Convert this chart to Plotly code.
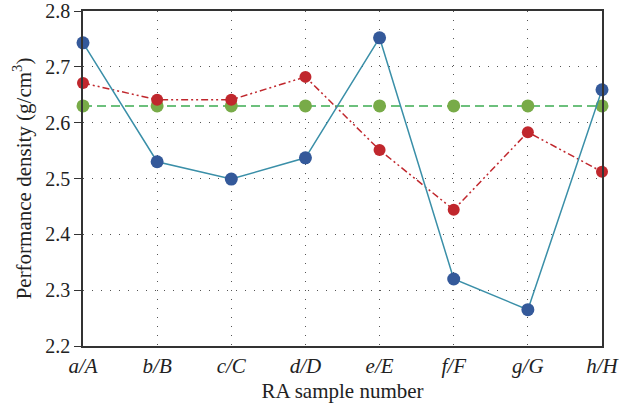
import plotly.graph_objects as go

categories = ["a/A", "b/B", "c/C", "d/D", "e/E", "f/F", "g/G", "h/H"]
blue_vals = [2.743, 2.530, 2.499, 2.537, 2.752, 2.320, 2.265, 2.659]
red_vals = [2.671, 2.641, 2.641, 2.682, 2.551, 2.444, 2.583, 2.512]
green_vals = [2.63, 2.63, 2.63, 2.63, 2.63, 2.63, 2.63, 2.63]
y_ticks = [2.2, 2.3, 2.4, 2.5, 2.6, 2.7, 2.8]

tick_text = ["<i>%s</i>" % c for c in categories]

fig = go.Figure()
fig.add_trace(go.Scatter(
    x=categories, y=green_vals, mode="lines+markers",
    line=dict(color="#6cc07c", width=2, dash="9px,5px"),
    marker=dict(color="#78ab48", size=13),
    cliponaxis=False, showlegend=False))
fig.add_trace(go.Scatter(
    x=categories, y=red_vals, mode="lines+markers",
    line=dict(color="#c0272d", width=1.5, dash="7px,3px,2px,3px,2px,3px"),
    marker=dict(color="#c0272d", size=12),
    cliponaxis=False, showlegend=False))
fig.add_trace(go.Scatter(
    x=categories, y=blue_vals, mode="lines+markers",
    line=dict(color="#3a8fa8", width=1.5),
    marker=dict(color="#34599a", size=13),
    cliponaxis=False, showlegend=False))

fig.update_layout(
    width=622, height=415,
    margin=dict(l=83, r=20, t=11, b=69),
    plot_bgcolor="white", paper_bgcolor="white",
    font=dict(family="Liberation Serif, DejaVu Serif, serif", color="#222", size=20),
)
fig.update_xaxes(
    type="category", range=[0, 7], automargin=False,
    tickvals=categories, ticktext=tick_text,
    showline=True, linecolor="#333", linewidth=1.5, mirror=True,
    showgrid=True, gridcolor="#555", griddash="1px,8px", gridwidth=1,
    ticks="", tickfont=dict(size=21),
    title=dict(text="RA sample number", font=dict(size=21), standoff=6),
)
fig.update_yaxes(
    range=[2.2, 2.8], tickvals=y_ticks, ticktext=["%.1f" % v for v in y_ticks],
    automargin=False,
    showline=True, linecolor="#333", linewidth=1.5, mirror=True,
    showgrid=True, gridcolor="#555", griddash="1px,8px", gridwidth=1,
    ticks="outside", ticklen=7, tickcolor="#333", tickfont=dict(size=20),
    zeroline=False,
    title=dict(text="Performance density (g/cm<sup>3</sup>)", font=dict(size=21), standoff=8),
)

fig.write_html(
    "out.html",
    config={"displayModeBar": False},
    post_script="document.body.style.margin='0';document.body.style.overflow='hidden';",
)
